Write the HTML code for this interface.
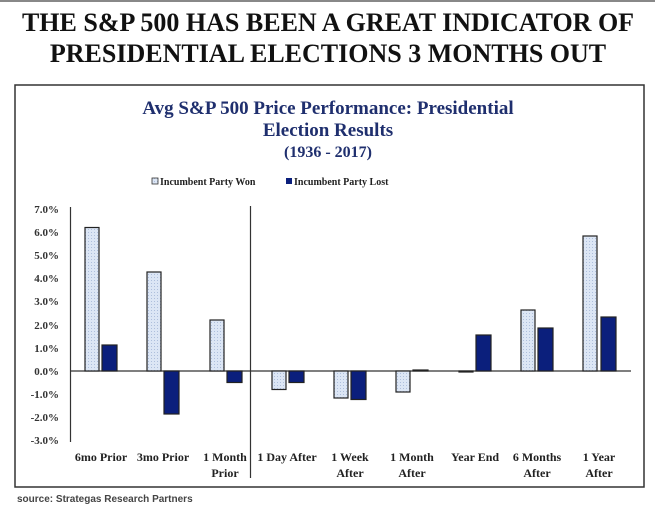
<!DOCTYPE html>
<html><head><meta charset="utf-8"><style>
html,body{margin:0;padding:0;background:#fff;}
svg{display:block}
</style></head><body>
<svg width="655" height="509" viewBox="0 0 655 509" xmlns="http://www.w3.org/2000/svg">
<defs>
<pattern id="dots" width="3" height="3" patternUnits="userSpaceOnUse">
<rect width="3" height="3" fill="#dce6f5"/>
<rect x="1" y="1" width="1" height="1" fill="#aebfdc"/>
</pattern>
</defs>
<rect x="0" y="0" width="655" height="2" fill="#888"/>
<g font-family="Liberation Serif, serif" font-weight="bold" text-anchor="middle">
<text x="328" y="31" font-size="26" fill="#111">THE S&amp;P 500 HAS BEEN A GREAT INDICATOR OF</text>
<text x="328" y="62" font-size="26" fill="#111">PRESIDENTIAL ELECTIONS 3 MONTHS OUT</text>
</g>
<rect x="15" y="85" width="629" height="402" fill="#fff" stroke="#333" stroke-width="1.5"/>
<g font-family="Liberation Serif, serif" font-weight="bold" text-anchor="middle" fill="#1f2f6e">
<text x="328" y="114" font-size="19">Avg S&amp;P 500 Price Performance: Presidential</text>
<text x="328" y="136" font-size="19">Election Results</text>
<text x="328" y="157" font-size="16">(1936 - 2017)</text>
</g>
<g font-family="Liberation Serif, serif" font-weight="bold" font-size="10" fill="#222">
<rect x="152" y="178" width="6" height="6" fill="url(#dots)" stroke="#333" stroke-width="0.8"/>
<text x="160" y="185">Incumbent Party Won</text>
<rect x="286" y="178" width="6" height="6" fill="#0b1f7c"/>
<text x="294" y="185">Incumbent Party Lost</text>
</g>
<g font-family="Liberation Serif, serif" font-weight="bold" font-size="11" fill="#333" text-anchor="end">
<text x="59" y="213">7.0%</text>
<text x="59" y="236">6.0%</text>
<text x="59" y="259">5.0%</text>
<text x="59" y="282">4.0%</text>
<text x="59" y="305">3.0%</text>
<text x="59" y="329">2.0%</text>
<text x="59" y="352">1.0%</text>
<text x="59" y="375">0.0%</text>
<text x="59" y="398">-1.0%</text>
<text x="59" y="421">-2.0%</text>
<text x="59" y="444">-3.0%</text>
</g>
<line x1="70.5" y1="207" x2="70.5" y2="442" stroke="#333" stroke-width="1.2"/>
<line x1="250.5" y1="206" x2="250.5" y2="478" stroke="#333" stroke-width="1.2"/>
<line x1="70" y1="371" x2="631" y2="371" stroke="#333" stroke-width="1.2"/>
<g stroke="#222" stroke-width="1.2">
<rect x="85" y="227.5" width="14" height="143.5" fill="url(#dots)"/>
<rect x="147" y="272" width="14" height="99" fill="url(#dots)"/>
<rect x="210" y="320" width="14" height="51" fill="url(#dots)"/>
<rect x="272" y="371" width="14" height="18.5" fill="url(#dots)"/>
<rect x="334" y="371" width="14" height="27" fill="url(#dots)"/>
<rect x="396" y="371" width="14" height="21" fill="url(#dots)"/>
<rect x="459" y="371" width="14" height="1" fill="url(#dots)"/>
<rect x="521" y="310" width="14" height="61" fill="url(#dots)"/>
<rect x="583" y="236" width="14" height="135" fill="url(#dots)"/>
<rect x="102" y="345" width="15" height="26" fill="#0b1f7c"/>
<rect x="164" y="371" width="15" height="43" fill="#0b1f7c"/>
<rect x="227" y="371" width="15" height="11.5" fill="#0b1f7c"/>
<rect x="289" y="371" width="15" height="11.5" fill="#0b1f7c"/>
<rect x="351" y="371" width="15" height="28.5" fill="#0b1f7c"/>
<rect x="413" y="370" width="15" height="1" fill="#0b1f7c"/>
<rect x="476" y="335" width="15" height="36" fill="#0b1f7c"/>
<rect x="538" y="328" width="15" height="43" fill="#0b1f7c"/>
<rect x="601" y="317" width="15" height="54" fill="#0b1f7c"/>
</g>
<g font-family="Liberation Serif, serif" font-weight="bold" font-size="12" fill="#222" text-anchor="middle">
<text x="101" y="461">6mo Prior</text>
<text x="163" y="461">3mo Prior</text>
<text x="225" y="461">1 Month</text><text x="225" y="477">Prior</text>
<text x="287" y="461">1 Day After</text>
<text x="350" y="461">1 Week</text><text x="350" y="477">After</text>
<text x="412" y="461">1 Month</text><text x="412" y="477">After</text>
<text x="475" y="461">Year End</text>
<text x="537" y="461">6 Months</text><text x="537" y="477">After</text>
<text x="599" y="461">1 Year</text><text x="599" y="477">After</text>
</g>
<text x="17" y="502" font-family="Liberation Sans, sans-serif" font-weight="bold" font-size="10" fill="#444">source: Strategas Research Partners</text>
</svg>
</body></html>
